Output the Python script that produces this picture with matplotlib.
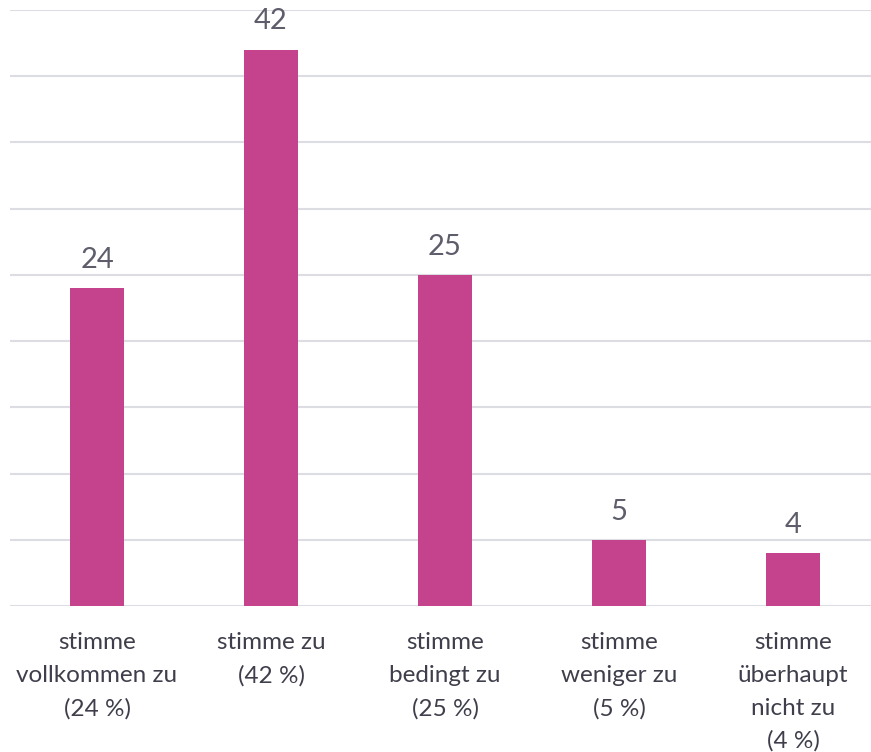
import matplotlib
matplotlib.use("Agg")
import matplotlib.pyplot as plt
import numpy as np

plt.rcParams['font.family'] = ['Lato', 'DejaVu Sans']

kategorien = ['stimme\nvollkommen zu\n(24 %)', 'stimme zu\n(42 %)', 'stimme\nbedingt zu\n(25 %)',
              'stimme\nweniger zu\n(5 %)', 'stimme\nüberhaupt\nnicht zu\n(4 %)']
werte = [24, 42, 25, 5, 4]
yticks = list(range(0, 50, 5))

fig = plt.figure(figsize=(8.71, 7.52), dpi=100)
# Achse ragt rechts etwas über das Bild hinaus (wie im Original abgeschnitten)
ax = fig.add_axes([10/871, 1-606/752, 870/871, (606-10)/752])

x = np.arange(len(werte))
ax.bar(x, werte, width=0.31, color='#c4438c', zorder=3)
ax.set_xlim(-0.5, len(werte)-0.5)
ax.set_ylim(0, 45)
ax.set_yticks(yticks)
ax.yaxis.grid(True, color='#dcdce3', linewidth=1.5, zorder=0)
ax.tick_params(axis='y', left=False, labelleft=False)
ax.tick_params(axis='x', length=0, pad=19, labelsize=17.5, labelcolor='#3f3f4c')
ax.set_xticks(x)
ax.set_xticklabels(kategorien, linespacing=1.68)
for s in ax.spines.values():
    s.set_visible(False)

for xi, v in zip(x, werte):
    ax.annotate(str(v), (xi, v), xytext=(0, 11), textcoords='offset points',
                ha='center', va='bottom', fontsize=21, color='#5d5d6b')

fig.savefig('out.png', dpi=100)
